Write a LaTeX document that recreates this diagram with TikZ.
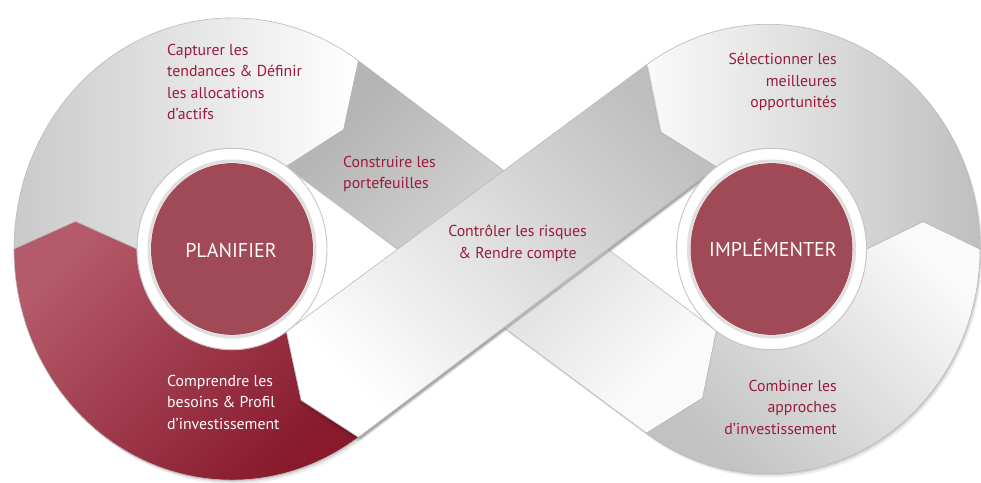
\documentclass[tikz,border=0pt]{standalone}
\usepackage{fontspec}
\setmainfont{PT Sans}
\definecolor{txtred}{RGB}{155,27,60}
\definecolor{disc}{RGB}{161,74,87}
\definecolor{marL}{RGB}{180,90,106}
\definecolor{marD}{RGB}{136,26,44}
% segment outlines (geometry units, y scaled later)
\def\PCapt{(14,0) -- (75.5,26) -- (137,0) arc[start angle=180,end angle=55.06,radius=95] -- (343.7,112.7) -- (358.48,177.55) arc[start angle=54.54,end angle=180,radius=218] -- cycle}
\def\PComp{(14,0) arc[start angle=180,end angle=305.46,radius=218] -- (301.2,-142.7) -- (286.41,-77.87) arc[start angle=304.94,end angle=180,radius=95] -- (75.5,26) -- cycle}
\def\PCons{(358.48,177.55) -- (343.7,112.7) -- (286.41,77.87) -- (646.57,-173.78) -- (702.7,-140.6) -- (716.38,-77.37) -- cycle}
\def\PComb{(646.57,-173.78) -- (702.7,-140.6) -- (716.38,-77.37) arc[start angle=234.54,end angle=360,radius=95] -- (923.25,26) -- (980,0) arc[start angle=0,end angle=-124.94,radius=212] -- cycle}
\def\PSel{(980,0) arc[start angle=0,end angle=124.94,radius=212] -- (660.2,110.6) -- (716.38,77.37) arc[start angle=125.46,end angle=0,radius=95] -- (923.25,26) -- cycle}
\def\PCtrl{(646.57,173.78) -- (660.2,110.6) -- (716.38,77.37) -- (358.48,-177.55) -- (301.2,-142.7) -- (286.41,-77.87) -- cycle}
\begin{document}
\begin{tikzpicture}[x=1pt,y=1pt,
  seg/.style={draw=gray!55, line width=0.6pt},
  lbl/.style={font=\fontsize{15.8}{21.5}\selectfont, text=txtred, inner sep=0pt},
  core/.style={font=\fontsize{20}{24}\selectfont, text=white, inner sep=0pt}]
\useasboundingbox (0,-233) rectangle (981,249);
\begin{scope}[yscale=1.06]
  % soft drop shadow
  \begin{scope}[shift={(2.5,-3.5)}]
    \fill[gray!14] \PCapt; \fill[gray!14] \PComp; \fill[gray!14] \PCons;
    \fill[gray!14] \PComb; \fill[gray!14] \PSel; \fill[gray!14] \PCtrl;
  \end{scope}
  \begin{scope}[shift={(1.2,-1.6)}]
    \fill[gray!35] \PCapt; \fill[gray!35] \PComp; \fill[gray!35] \PCons;
    \fill[gray!35] \PComb; \fill[gray!35] \PSel; \fill[gray!35] \PCtrl;
  \end{scope}
  % segments
  \path[seg, left color=gray!42, right color=white] \PCapt;
  \path[seg, top color=marL, bottom color=marD, shading angle=45] \PComp;
  \path[seg, top color=gray!58, bottom color=gray!4, shading angle=45] \PCons;
  \path[seg, top color=gray!4, bottom color=gray!48, shading angle=-45] \PComb;
  \path[seg, left color=gray!4, right color=gray!50] \PSel;
  % shadow of the upper band on the lower one
  \begin{scope}[shift={(0,-4)}]
    \fill[black, opacity=0.10] \PCtrl;
  \end{scope}
  \begin{scope}[shift={(2,-2)}]
    \fill[black, opacity=0.10] \PCtrl;
  \end{scope}
  \path[seg, top color=gray!50, bottom color=white, shading angle=-45] \PCtrl;
  % white rings and discs
  \fill[white] (232,0) circle[radius=95];
  \draw[gray!45, line width=0.9pt] (232,0) circle[radius=95];
  \draw[gray!25, line width=3pt] (232,0) circle[radius=83];
  \fill[disc] (232,0) circle[radius=81];
  \fill[white] (771.5,0) circle[radius=95];
  \draw[gray!45, line width=0.9pt] (771.5,0) circle[radius=95];
  \draw[gray!25, line width=3pt] (771.5,0) circle[radius=83];
  \fill[disc] (771.5,0) circle[radius=81];
\end{scope}
% labels
\node[lbl, anchor=north west, align=left] (capt) at (167,205) {Capturer les\\tendances \& Définir\\les allocations\\d’actifs};
\node[lbl, anchor=north west, align=left] (cons) at (343,93) {Construire les\\portefeuilles};
\node[lbl, anchor=north, align=center] (ctrl) at (517.5,24) {Contrôler les risques\\\& Rendre compte};
\node[lbl, anchor=north east, align=right] (sel) at (837,196) {Sélectionner les\\meilleures\\opportunités};
\node[lbl, anchor=north east, align=right] (comb) at (837,-131) {Combiner les\\approches\\d’investissement};
\node[lbl, text=white, anchor=north west, align=left] (comp) at (167,-126) {Comprendre les\\besoins \& Profil\\d’investissement};
\node[core, anchor=base] (plan) at (231,-8) {PLANIFIER};
\node[core, anchor=base] (impl) at (773,-7) {IMPLÉMENTER};
\end{tikzpicture}
\end{document}
